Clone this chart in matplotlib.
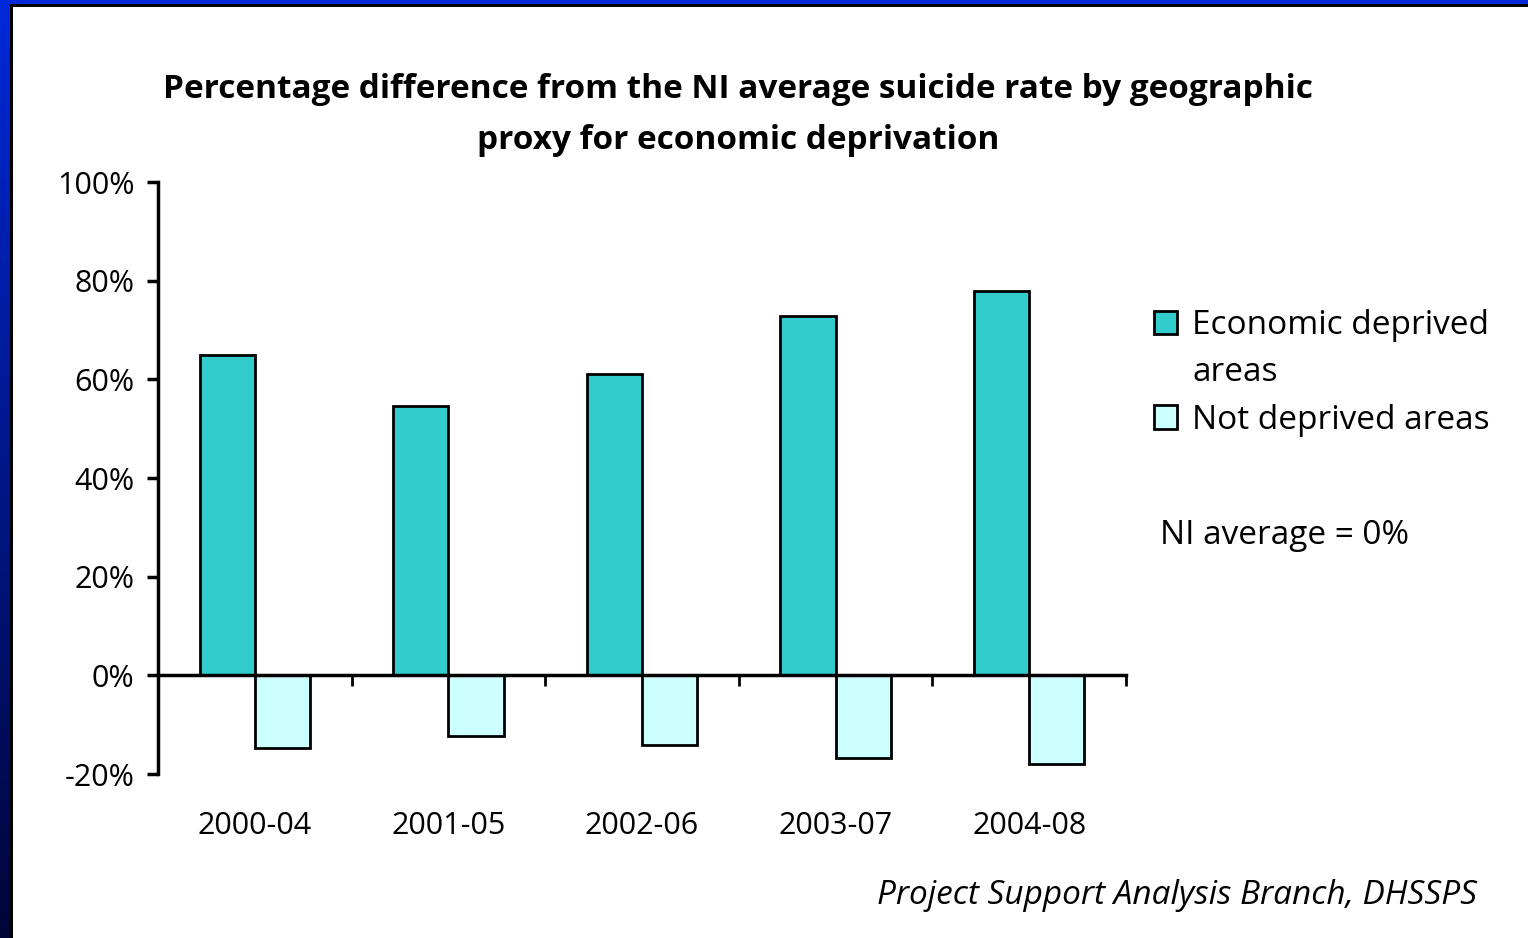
import numpy as np
import matplotlib.pyplot as plt
from matplotlib.patches import Rectangle, Patch

periods = ['2000-04', '2001-05', '2002-06', '2003-07', '2004-08']
deprived = [65.0, 54.5, 61.1, 72.9, 77.9]
not_deprived = [-14.8, -12.3, -14.2, -16.8, -18.0]
yticks = [-20, 0, 20, 40, 60, 80, 100]

teal = '#33CCCC'
pale = '#CCFFFF'

plt.rcParams['font.family'] = ['Open Sans', 'DejaVu Sans']

fig = plt.figure(figsize=(15.28, 9.38), dpi=100)

# slide frame: blue band at top, blue->navy band at left, thin black line inside
bg = fig.add_axes([0, 0, 1, 1], zorder=-10)
bg.set_xlim(0, 1528)
bg.set_ylim(938, 0)
bg.axis('off')
grad = np.linspace(0, 1, 256).reshape(-1, 1)
c0 = np.array([0.0, 0.16, 0.85])
c1 = np.array([0.0, 0.02, 0.22])
img = c0 + (c1 - c0) * grad[:, :, None]
bg.imshow(img, extent=[0, 10, 938, 0], aspect='auto')
bg.add_patch(Rectangle((0, 0), 1528, 4, color='#0028D8', lw=0))
bg.add_patch(Rectangle((10, 4), 1518, 3, color='black', lw=0))
bg.add_patch(Rectangle((10, 4), 3, 934, color='black', lw=0))

ax = fig.add_axes([158 / 1528, 1 - 774 / 938, (1126 - 158) / 1528, (774 - 182) / 938])
x = np.arange(len(periods))
w = 0.285
ax.bar(x - w / 2, deprived, w, color=teal, edgecolor='black', lw=2)
ax.bar(x + w / 2, not_deprived, w, color=pale, edgecolor='black', lw=2)

ax.set_xlim(-0.5, len(periods) - 0.5)
ax.set_ylim(-20, 100)
ax.set_yticks(yticks)
ax.set_yticklabels([f'{v}%' for v in yticks], fontsize=22)
ax.tick_params(axis='y', length=8, width=2.5, pad=9)

ax.spines['top'].set_visible(False)
ax.spines['right'].set_visible(False)
ax.spines['left'].set_linewidth(2.5)
ax.spines['bottom'].set_position(('data', 0))
ax.spines['bottom'].set_linewidth(2.5)
ax.set_xticks(np.arange(len(periods) + 1) - 0.5)
ax.set_xticklabels([])
ax.tick_params(axis='x', length=8, width=2, direction='out')

# category names sit below the plot area, not at the zero line
for i, p in enumerate(periods):
    ax.text(i, -30.5, p, fontsize=22, ha='center', va='center', clip_on=False)

fig.text(738 / 1528, 1 - 115 / 938,
         'Percentage difference from the NI average suicide rate by geographic\nproxy for economic deprivation',
         ha='center', va='center', fontsize=24, fontweight='bold', linespacing=1.75)

# wrapped first label: second line gets an empty handle so the box stays on the top line
handles = [Patch(facecolor=teal, edgecolor='black', lw=2),
           Patch(facecolor='none', edgecolor='none', lw=0),
           Patch(facecolor=pale, edgecolor='black', lw=2)]
labels = ['Economic deprived', 'areas', 'Not deprived areas']
leg = fig.legend(handles, labels, loc='upper left', bbox_to_anchor=(1124 / 1528, 1 - 279 / 938),
                 frameon=False, fontsize=24, handlelength=0.7, handleheight=0.7,
                 handletextpad=0.45, labelspacing=0.43)

fig.text(1160 / 1528, 1 - 535 / 938, 'NI average = 0%', fontsize=24, ha='left', va='center')
fig.text(1477 / 1528, 1 - 895 / 938, 'Project Support Analysis Branch, DHSSPS',
         fontsize=24, style='italic', ha='right', va='center')

fig.savefig('out.png', dpi=100)
